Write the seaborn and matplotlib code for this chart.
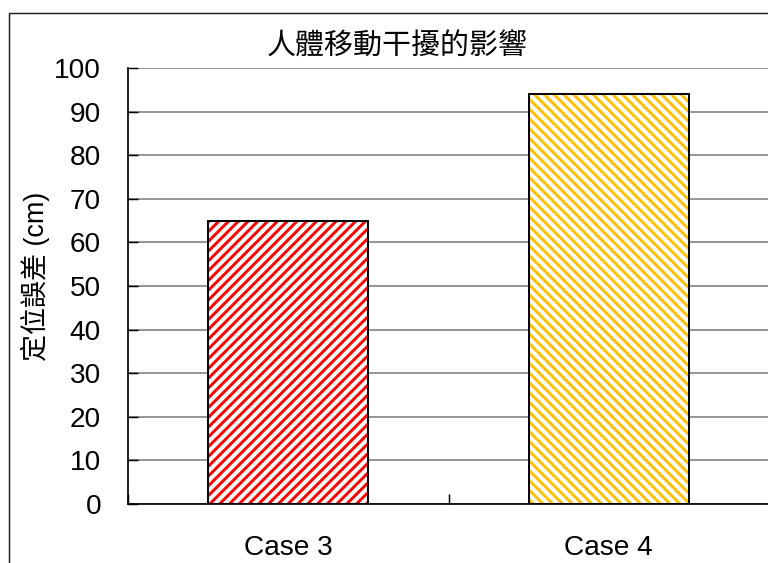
import matplotlib
matplotlib.use("Agg")
import matplotlib.pyplot as plt
from matplotlib.patches import Rectangle
import seaborn as sns
import pandas as pd

# Data
cases = ["Case 3", "Case 4"]
errors = [65, 94]
stripe_colors = ["#FF0000", "#FFC000"]
hatches = ["///", "\\\\\\"]
y_ticks = list(range(0, 101, 10))

title = "人體移動干擾的影響"
ylabel = "定位誤差 (cm)"

sns.set_theme(style="white")
plt.rcParams["font.family"] = ["Liberation Sans", "Noto Sans CJK TC"]
plt.rcParams["hatch.linewidth"] = 2.4

DPI = 88
fig = plt.figure(figsize=(768 / DPI, 563 / DPI), dpi=DPI)
fig.patch.set_facecolor("white")

W, H = 768, 563
ax = fig.add_axes([128 / W, (H - 504) / H, (769 - 128) / W, (504 - 68) / H])

df = pd.DataFrame({"case": cases, "error": errors})
sns.barplot(data=df, x="case", y="error", hue="case", palette=stripe_colors,
            width=0.5, legend=False, ax=ax, zorder=3)

# Striped fill with a separate black outline around each bar
for patch, col, h in zip(ax.patches, stripe_colors, hatches):
    patch.set_facecolor("white")
    patch.set_edgecolor(col)
    patch.set_hatch(h)
    patch.set_linewidth(0)
    ax.add_patch(Rectangle((patch.get_x(), patch.get_y()), patch.get_width(),
                           patch.get_height(), fill=False, edgecolor="black",
                           linewidth=1.6, zorder=4))

ax.set_xlim(-0.5, 1.5)
ax.set_ylim(0, 100)
ax.set_yticks(y_ticks)
ax.set_xticks([0, 1])
ax.set_xticks([-0.5, 0.5, 1.5], minor=True)
ax.set_xticklabels(cases)
ax.set_xlabel("")
ax.set_ylabel("")

ax.grid(axis="y", color="#868686", linewidth=1.4, zorder=0)
ax.grid(axis="x", visible=False)
ax.set_axisbelow(True)

for side in ["top", "right"]:
    ax.spines[side].set_visible(False)
for side in ["left", "bottom"]:
    ax.spines[side].set_color("black")
    ax.spines[side].set_linewidth(1.4)
    ax.spines[side].set_zorder(5)

fs = 28 * 72 / DPI
ax.tick_params(axis="y", which="major", direction="in", length=8, width=1.2,
               color="black", left=True, labelsize=fs, pad=22, labelcolor="black")
ax.tick_params(axis="x", which="major", length=0, labelsize=fs, pad=25,
               labelcolor="black")
ax.tick_params(axis="x", which="minor", direction="in", length=8, width=1.2,
               color="black", bottom=True)

fig.text(35 / W, 1 - 276 / H, ylabel, rotation=90, ha="center", va="center",
         fontsize=27 * 72 / DPI, color="black")
fig.text(397 / W, 1 - 46 / H, title, ha="center", va="center",
         fontsize=29 * 72 / DPI, color="black",
         family=["Noto Sans CJK TC", "DejaVu Sans"])

# Outer frame of the chart area
fig.add_artist(Rectangle((9 / W, -0.05), 1.1, 1 - 12.5 / H + 0.05,
                         transform=fig.transFigure, fill=False,
                         edgecolor="#222222", linewidth=1.2))

fig.savefig("out.png", dpi=DPI)
